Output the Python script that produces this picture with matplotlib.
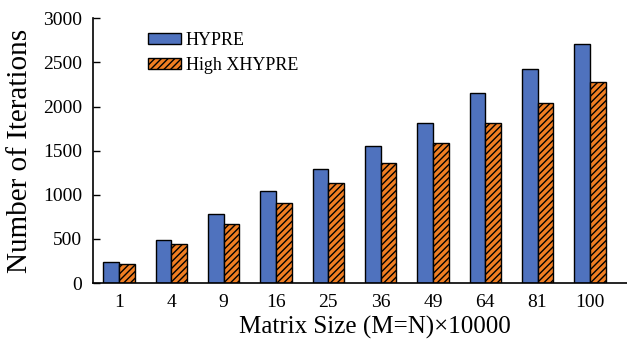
import numpy as np
import matplotlib
matplotlib.use("Agg")
import matplotlib.pyplot as plt

plt.rcParams['font.family'] = 'serif'
plt.rcParams['font.serif'] = ['Liberation Serif', 'TeX Gyre Termes', 'DejaVu Serif']
plt.rcParams['hatch.linewidth'] = 1.0

# Data
sizes = ['1', '4', '9', '16', '25', '36', '49', '64', '81', '100']
hypre = [242, 487, 778, 1039, 1296, 1557, 1818, 2158, 2430, 2706]
high_xhypre = [219, 446, 673, 907, 1134, 1360, 1587, 1818, 2044, 2279]

fig = plt.figure(figsize=(6.27, 3.5), dpi=100)
ax = fig.add_axes([0.148, 0.191, 0.852, 0.757])

x = np.arange(len(sizes))
w = 0.3
ax.bar(x - w / 2, hypre, w, color='#4F72BE', edgecolor='black', linewidth=1.0, label='HYPRE')
ax.bar(x + w / 2, high_xhypre, w, color='#F07E22', edgecolor='black', linewidth=1.0,
       hatch='/////', label='High XHYPRE')

ax.set_xlim(-0.5, 9.71)
ax.set_ylim(0, 3000)
ax.set_yticks(range(0, 3001, 500))
ax.set_xticks(x)
ax.set_xticklabels(sizes)
ax.tick_params(axis='y', direction='in', length=5, labelsize=14, width=1, pad=7.5)
ax.tick_params(axis='x', length=0, labelsize=14, pad=8)
for s in ['top', 'right']:
    ax.spines[s].set_visible(False)
ax.spines['left'].set_linewidth(1.2)
ax.spines['bottom'].set_linewidth(1.2)

ax.set_ylabel('Number of Iterations', fontsize=21)
ax.yaxis.set_label_coords(-0.112, 0.5)
ax.set_xlabel('Matrix Size (M=N)×10000', fontsize=18)
ax.xaxis.set_label_coords(0.528, -0.122)

ax.legend(loc='upper left', bbox_to_anchor=(0.09, 0.974), frameon=False, fontsize=13,
          handlelength=1.8, handleheight=0.55, handletextpad=0.3, labelspacing=0.4,
          borderaxespad=0)

fig.savefig('out.png', dpi=100)
